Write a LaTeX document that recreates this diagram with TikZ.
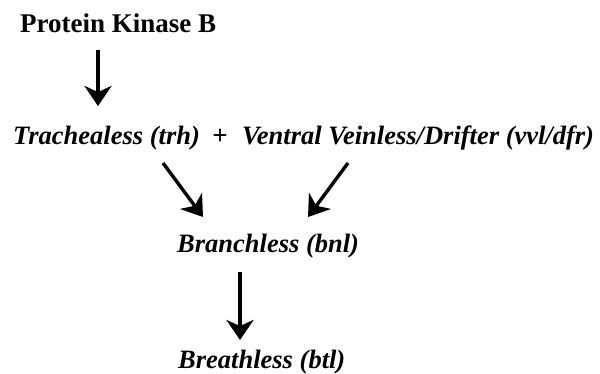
\documentclass[tikz,border=0pt]{standalone}
\usepackage{fontspec}
\setmainfont{Liberation Serif}
\usetikzlibrary{arrows.meta,calc}
\begin{document}
\begin{tikzpicture}[x=1pt, y=-1pt,
    lbl/.style={anchor=base west, inner sep=0pt, font=\fontsize{26.5}{30}\selectfont\bfseries\itshape},
    arr/.style={-{Stealth[length=20pt, width=27pt, inset=6pt]}, line width=3.4pt}]
    \useasboundingbox (0, 0) rectangle (600, 373);
    \node[lbl, font=\fontsize{27}{30}\selectfont\bfseries] (pkb) at (20, 32) {Protein Kinase B};
    \node[lbl] (trh) at (13, 144) {Trachealess (trh)};
    \node[lbl, anchor=base, font=\fontsize{27}{30}\selectfont\bfseries] (plus) at (220, 144) {+};
    \node[lbl] (vvl) at (242, 144) {Ventral Veinless/Drifter (vvl/dfr)};
    \node[lbl] (bnl) at (177, 252) {Branchless (bnl)};
    \node[lbl] (btl) at (178, 368) {Breathless (btl)};
    \draw[arr] ($(pkb.base west)+(78, 18)$) -- ($(trh.base west)+(85, -38)$);
    \draw[arr] ($(trh.base west)+(150, 19)$) -- ($(bnl.base west)+(26, -35)$);
    \draw[arr] ($(vvl.base west)+(106, 19)$) -- ($(bnl.base west)+(131, -35)$);
    \draw[arr] ($(bnl.base west)+(63, 20)$) -- ($(btl.base west)+(62, -28)$);
\end{tikzpicture}
\end{document}
